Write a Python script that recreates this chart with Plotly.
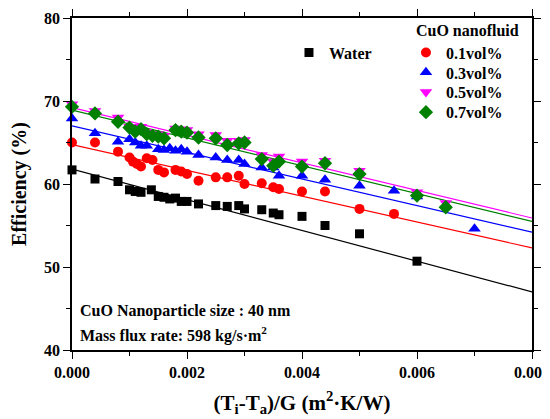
import plotly.graph_objects as go

# ---- data ----
water_x = [0, 0.0004, 0.0008, 0.001, 0.0011, 0.0012, 0.00138, 0.0015, 0.0016, 0.0017, 0.0018, 0.0019, 0.002,
           0.0022, 0.0025, 0.0027, 0.0029, 0.003, 0.0033, 0.0035, 0.0036, 0.004, 0.0044, 0.005, 0.006]
water_y = [61.7, 60.6, 60.3, 59.3, 59.1, 59.0, 59.3, 58.5, 58.4, 58.2, 58.3, 57.9, 57.9,
           57.6, 57.4, 57.3, 57.4, 57.0, 56.9, 56.5, 56.3, 56.1, 55.0, 54.0, 50.7]

cuo01_x = [0, 0.0004, 0.0008, 0.001, 0.00106, 0.00113, 0.0012, 0.0013, 0.0014, 0.0015, 0.0016, 0.0018, 0.0019,
           0.002, 0.0022, 0.0025, 0.0027, 0.0029, 0.003, 0.0033, 0.0035, 0.0036, 0.004, 0.0044, 0.005, 0.0056]
cuo01_y = [65.0, 65.0, 63.9, 63.2, 62.7, 62.4, 62.1, 63.1, 62.9, 61.7, 61.4, 61.7, 61.5,
           61.2, 60.4, 60.8, 60.8, 61.0, 60.0, 60.1, 59.6, 59.4, 59.1, 59.1, 57.0, 56.4]

cuo03_x = [0, 0.0004, 0.0008, 0.001, 0.0011, 0.0012, 0.0013, 0.0015, 0.0016, 0.0017, 0.0018, 0.0019, 0.002,
           0.0022, 0.0025, 0.0027, 0.0029, 0.003, 0.0033, 0.0035, 0.0036, 0.004, 0.0044, 0.005, 0.0056, 0.006, 0.007]
cuo03_y = [67.9, 66.1, 65.1, 65.4, 65.0, 64.6, 64.6, 64.2, 64.1, 64.3, 64.0, 64.2, 63.9,
           63.5, 63.2, 62.9, 62.9, 62.4, 62.0, 62.0, 61.0, 61.0, 60.5, 59.8, 59.2, 58.5, 54.6]

cuo05_x = [0, 0.0004, 0.0008, 0.001, 0.0011, 0.0012, 0.0013, 0.0014, 0.0015, 0.0016, 0.0018, 0.0019, 0.002,
           0.0022, 0.0025, 0.0027, 0.0029, 0.003, 0.0033, 0.0035, 0.0036, 0.004, 0.0044, 0.005, 0.006, 0.0065]
cuo05_y = [69.6, 68.8, 68.0, 66.9, 66.6, 66.9, 66.3, 66.0, 66.0, 65.8, 66.7, 66.6, 66.5,
           66.0, 65.9, 65.2, 65.2, 65.3, 63.5, 62.7, 63.3, 62.7, 62.8, 61.6, 59.0, 57.7]

cuo07_x = [0, 0.0004, 0.0008, 0.001, 0.0011, 0.0012, 0.0013, 0.0014, 0.0015, 0.0016, 0.0018, 0.0019, 0.002,
           0.0022, 0.0025, 0.0027, 0.0029, 0.003, 0.0033, 0.0035, 0.0036, 0.004, 0.0044, 0.005, 0.006, 0.0065]
cuo07_y = [69.3, 68.5, 67.5, 66.8, 66.3, 66.6, 66.0, 65.8, 65.7, 65.5, 66.5, 66.3, 66.2,
           65.6, 65.5, 64.7, 64.9, 65.0, 63.0, 62.2, 62.7, 62.1, 62.5, 61.2, 58.6, 57.2]

series_names = ["Water", "0.1vol%", "0.3vol%", "0.5vol%", "0.7vol%"]
legend_title = "CuO nanofluid"
fit_intercept = [61.8, 64.75, 67.0, 69.2, 68.9]
fit_slope = [-1850, -1556, -1600, -1662, -1675]

x_range = [0, 0.008]
y_range = [40, 80]

colors = ["black", "#ff0000", "#0000ff", "#ff00ff", "#008000"]
symbols = ["square", "circle", "triangle-up", "triangle-down", "diamond"]
sizes = [9, 10, 11, 11, 11]
legend_ids = ["legend2", "legend", "legend3", "legend4", "legend5"]

xs = [water_x, cuo01_x, cuo03_x, cuo05_x, cuo07_x]
ys = [water_y, cuo01_y, cuo03_y, cuo05_y, cuo07_y]

FONT = "Liberation Serif"
BOLD16 = dict(family=FONT, size=16, color="black", weight="bold")

fig = go.Figure()

# fitted lines
for i in range(5):
    fx = x_range
    fy = [fit_intercept[i] + fit_slope[i] * v for v in fx]
    fig.add_trace(go.Scatter(x=fx, y=fy, mode="lines", line=dict(color=colors[i], width=1.2),
                             showlegend=False, hoverinfo="skip"))

# markers
for i in range(5):
    fig.add_trace(go.Scatter(
        x=xs[i], y=ys[i], mode="markers", name=series_names[i],
        marker=dict(symbol=symbols[i], size=sizes[i], color=colors[i], line=dict(width=0)),
        legend=legend_ids[i],
        cliponaxis=False,
    ))

axis_common = dict(
    showline=True, linecolor="black", linewidth=1.5, mirror="ticks",
    ticks="outside", ticklen=7, tickwidth=1.2, tickcolor="black",
    showgrid=False, zeroline=False, automargin=False, ticklabeloverflow="allow",
    tickfont=dict(family=FONT, size=16, color="black", weight="bold"),
)

fig.update_xaxes(range=x_range, dtick=0.002, tick0=0, tickformat=".3f",
                 minor=dict(dtick=0.001, ticks="outside", ticklen=4, tickcolor="black"),
                 title=dict(text="(T<sub>i</sub>-T<sub>a</sub>)/G (m<sup>2</sup>·K/W)",
                            font=dict(family=FONT, size=21, color="black", weight="bold"), standoff=15),
                 **axis_common)
fig.update_yaxes(range=y_range, dtick=10, tick0=40,
                 minor=dict(dtick=5, ticks="outside", ticklen=4, tickcolor="black"),
                 title=dict(text="Efficiency (%)",
                            font=dict(family=FONT, size=20, color="black", weight="bold"), standoff=12),
                 **axis_common)

leg_common = dict(xanchor="left", yanchor="top", bgcolor="rgba(0,0,0,0)", borderwidth=0, font=BOLD16)

fig.update_layout(
    width=542, height=411,
    margin=dict(l=64, r=18, t=7, b=69),
    paper_bgcolor="white", plot_bgcolor="white",
    font=dict(family=FONT, color="black"),
    legend=dict(x=0.726, y=1.0099,
                title=dict(text="\u00a0\u00a0" + legend_title, font=BOLD16), **leg_common),
    legend2=dict(x=0.4717, y=0.947, **leg_common),
    legend3=dict(x=0.726, y=0.8875, **leg_common),
    legend4=dict(x=0.726, y=0.8278, **leg_common),
    legend5=dict(x=0.726, y=0.7672, **leg_common),
    annotations=[
        dict(text="CuO Nanoparticle size : 40 nm", xref="paper", yref="paper",
             x=0.012, y=0.116, xanchor="left", yanchor="middle", showarrow=False, font=BOLD16),
        dict(text="Mass flux rate: 598 kg/s·m<sup>2</sup>", xref="paper", yref="paper",
             x=0.012, y=0.048, xanchor="left", yanchor="middle", showarrow=False, font=BOLD16),
    ],
)

fig.write_html("out.html")
